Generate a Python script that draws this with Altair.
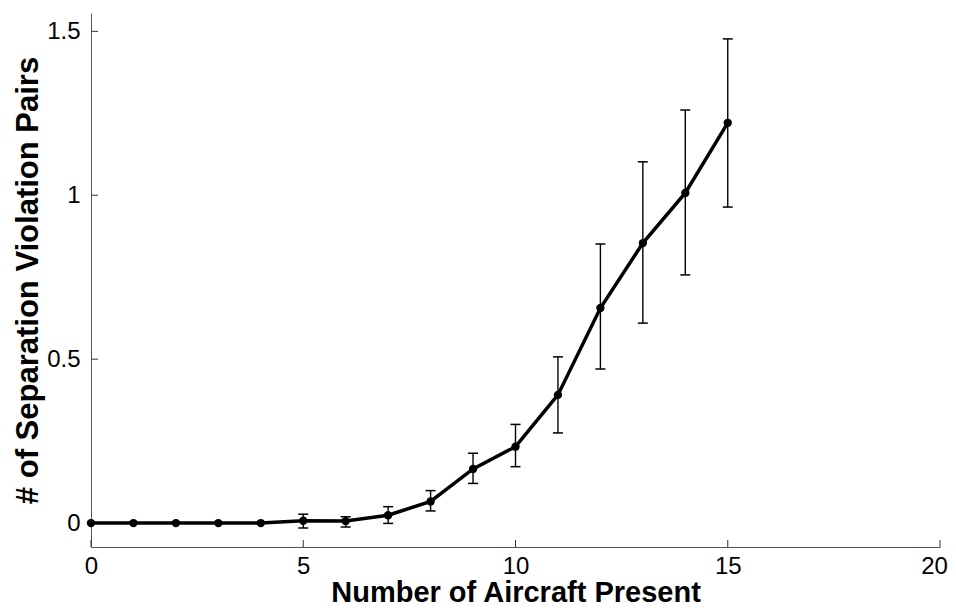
import altair as alt
import pandas as pd

# ---- data ----
aircraft = list(range(16))
violations = [0, 0, 0, 0, 0, 0.007, 0.006, 0.024, 0.066, 0.165, 0.233,
              0.391, 0.656, 0.854, 1.007, 1.221]

err_x = [5, 6, 7, 8, 9, 10, 11, 12, 13, 14, 15]
err_lo = [-0.015, -0.012, -0.001, 0.037, 0.121, 0.172, 0.275, 0.470, 0.610, 0.757, 0.964]
err_hi = [0.027, 0.019, 0.050, 0.099, 0.213, 0.301, 0.507, 0.851, 1.102, 1.260, 1.477]

x_ticks = [0, 5, 10, 15, 20]
y_ticks = [0, 0.5, 1, 1.5]

W, H = 849, 534
FONT = "Liberation Sans"

main = pd.DataFrame({"n": aircraft, "v": violations})
err = pd.DataFrame({"n": err_x, "lo": err_lo, "hi": err_hi})
xt = pd.DataFrame({"t": x_ticks})
yt = pd.DataFrame({"t": y_ticks})

xscale = alt.Scale(domain=[0, 20], nice=False, zero=False)
yscale = alt.Scale(domain=[-0.073, 1.556], nice=False, zero=False)

xaxis = alt.Axis(values=x_ticks, ticks=False, grid=False, format="~g",
                 labelFont=FONT, labelFontSize=24, labelColor="black",
                 labelPadding=7, labelFlush=False,
                 labelOffset=alt.expr("datum.value == 20 ? -6 : 0"),
                 domainColor="#555", domainWidth=1,
                 title="Number of Aircraft Present", titleFont=FONT,
                 titleFontSize=29, titleFontWeight="bold", titleColor="black",
                 titleBaseline="alphabetic", titleY=54)
yaxis = alt.Axis(values=y_ticks, ticks=False, grid=False, format="~g",
                 labelFont=FONT, labelFontSize=24, labelColor="black",
                 labelPadding=11, labelFlush=False,
                 domainColor="#555", domainWidth=1,
                 title="# of Separation Violation Pairs", titleFont=FONT,
                 titleFontSize=31, titleFontWeight="bold", titleColor="black",
                 titleAngle=-90, titleAlign="center", titleBaseline="middle",
                 titleX=-63, titleY=H / 2)

base = alt.Chart(main)

line = base.mark_line(color="black", strokeWidth=3.5).encode(
    x=alt.X("n:Q", scale=xscale, axis=xaxis),
    y=alt.Y("v:Q", scale=yscale, axis=yaxis),
)
pts = base.mark_circle(color="black", size=70, opacity=1).encode(
    x=alt.X("n:Q", scale=xscale),
    y=alt.Y("v:Q", scale=yscale),
)

ebar = alt.Chart(err).mark_rule(color="black", strokeWidth=1.4).encode(
    x=alt.X("n:Q", scale=xscale),
    y=alt.Y("lo:Q", scale=yscale),
    y2="hi:Q",
)
cap_lo = alt.Chart(err).mark_tick(color="black", size=10, thickness=1.5,
                                  orient="horizontal", opacity=1).encode(
    x=alt.X("n:Q", scale=xscale),
    y=alt.Y("lo:Q", scale=yscale),
)
cap_hi = alt.Chart(err).mark_tick(color="black", size=10, thickness=1.5,
                                  orient="horizontal", opacity=1).encode(
    x=alt.X("n:Q", scale=xscale),
    y=alt.Y("hi:Q", scale=yscale),
)

# inward ticks (MATLAB style)
ytick_marks = alt.Chart(yt).mark_rule(color="#333", strokeWidth=1).encode(
    y=alt.Y("t:Q", scale=yscale),
    x=alt.value(0),
    x2=alt.value(7),
)
xtick_marks = alt.Chart(xt).mark_rule(color="#333", strokeWidth=1).encode(
    x=alt.X("t:Q", scale=xscale),
    y=alt.value(H),
    y2=alt.value(H - 7),
)

chart = alt.layer(
    ytick_marks, xtick_marks, ebar, cap_lo, cap_hi, line, pts
).properties(
    width=W, height=H,
    autosize=alt.AutoSizeParams(type="none"),
    padding={"left": 83, "top": 5, "right": 8, "bottom": 56},
    background="white",
).configure_view(stroke=None)

chart.save("out.html", embed_options={"renderer": "svg", "actions": False})
